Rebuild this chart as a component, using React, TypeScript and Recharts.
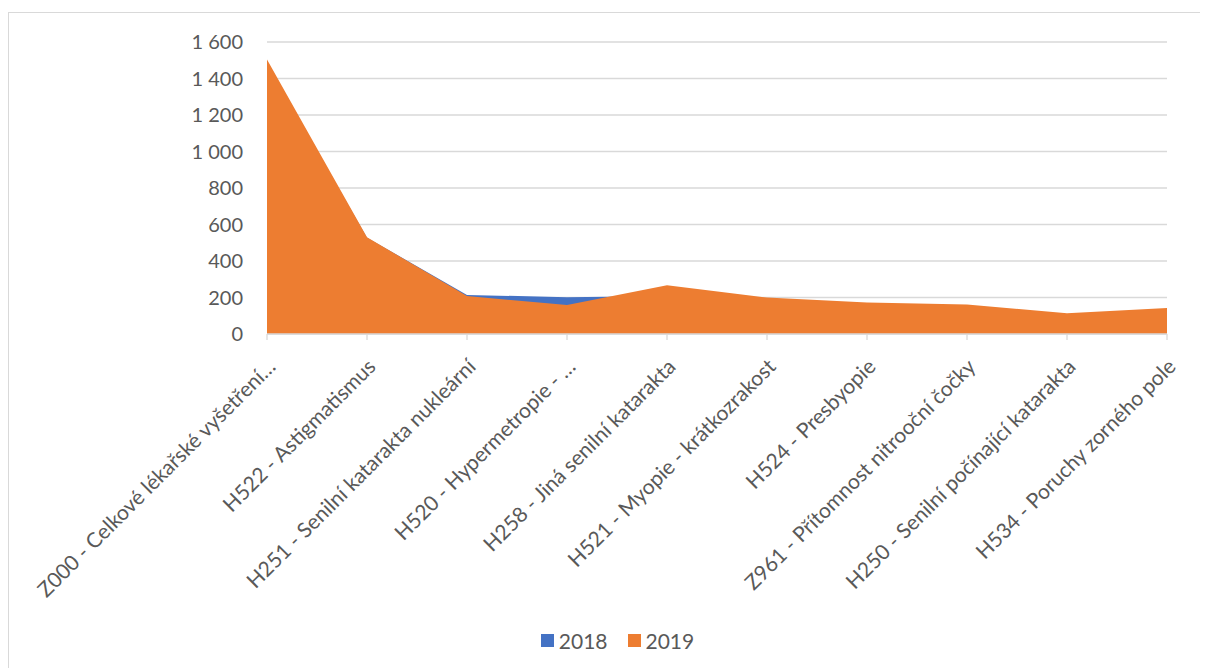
import { AreaChart, Area, XAxis, YAxis, CartesianGrid, Legend } from "recharts";

const categories = [
  "Z000 - Celkové lékařské vyšetření…",
  "H522 - Astigmatismus",
  "H251 - Senilní katarakta nukleární",
  "H520 - Hypermetropie - …",
  "H258 - Jiná senilní katarakta",
  "H521 - Myopie - krátkozrakost",
  "H524 - Presbyopie",
  "Z961 - Přítomnost nitrooční čočky",
  "H250 - Senilní počínající katarakta",
  "H534 - Poruchy zorného pole",
];
const values2018 = [1480, 528, 214, 202, 208, 190, 160, 150, 105, 130];
const values2019 = [1504, 530, 208, 159, 267, 200, 172, 161, 114, 143];
const yTicks = [0, 200, 400, 600, 800, 1000, 1200, 1400, 1600];

const data = categories.map((name, i) => ({
  name,
  y2018: values2018[i],
  y2019: values2019[i],
}));

const FONT = "Lato, 'Open Sans', sans-serif";
const TEXT = "#595959";
const BLUE = "#4472C4";
const ORANGE = "#ED7D31";

const fmt = (v: number) => String(v).replace(/\B(?=(\d{3})+(?!\d))/g, " ");

/* rotated category label, ends just below-right of its tick */
function XTick({ x, y, payload }: any) {
  return (
    <g transform={`translate(${x + 10},${y + 28})`}>
      <text textAnchor="end" transform="rotate(-45)" fill={TEXT} fontSize={21} fontFamily={FONT}>
        {payload.value}
      </text>
    </g>
  );
}

function YTick({ x, y, payload }: any) {
  return (
    <text x={x} y={y} dy="0.35em" textAnchor="end" fill={TEXT} fontSize={20} fontFamily={FONT}>
      {fmt(payload.value)}
    </text>
  );
}

function LegendContent() {
  const items = [
    { label: "2018", color: BLUE },
    { label: "2019", color: ORANGE },
  ];
  return (
    <div style={{ display: "flex", justifyContent: "center", gap: 20, fontFamily: FONT, fontSize: 21, color: TEXT }}>
      {items.map((it) => (
        <div key={it.label} style={{ display: "flex", alignItems: "center", gap: 5 }}>
          <span style={{ width: 13, height: 13, background: it.color, display: "inline-block" }} />
          <span>{it.label}</span>
        </div>
      ))}
    </div>
  );
}

export default function App() {
  return (
    <div
      style={{
        position: "relative",
        marginTop: 4,
        width: 1192,
        height: 656,
        borderLeft: "1px solid #d9d9d9",
        borderTop: "1px solid #d9d9d9",
        background: "#fff",
        boxSizing: "border-box",
      }}
    >
      <style>{"html, body { overflow: hidden; }"}</style>
      <AreaChart width={1191} height={655} data={data} margin={{ top: 29, right: 33, left: 0, bottom: 19 }}>
        <CartesianGrid vertical={false} stroke="#d9d9d9" strokeWidth={1.3} />
        <XAxis
          dataKey="name"
          interval={0}
          height={290}
          stroke="#d9d9d9"
          strokeWidth={1.3}
          tickSize={6}
          tickMargin={0}
          tick={<XTick />}
        />
        <YAxis
          width={258}
          domain={[0, 1600]}
          ticks={yTicks}
          axisLine={false}
          tickLine={false}
          tickMargin={18}
          tick={<YTick />}
        />
        <Legend
          content={<LegendContent />}
          wrapperStyle={{ position: "absolute", top: 615, left: 13, width: 1191 }}
        />
        <Area
          type="linear"
          dataKey="y2018"
          stroke="none"
          fill={BLUE}
          fillOpacity={1}
          isAnimationActive={false}
        />
        <Area
          type="linear"
          dataKey="y2019"
          stroke="none"
          fill={ORANGE}
          fillOpacity={1}
          isAnimationActive={false}
        />
      </AreaChart>
    </div>
  );
}
